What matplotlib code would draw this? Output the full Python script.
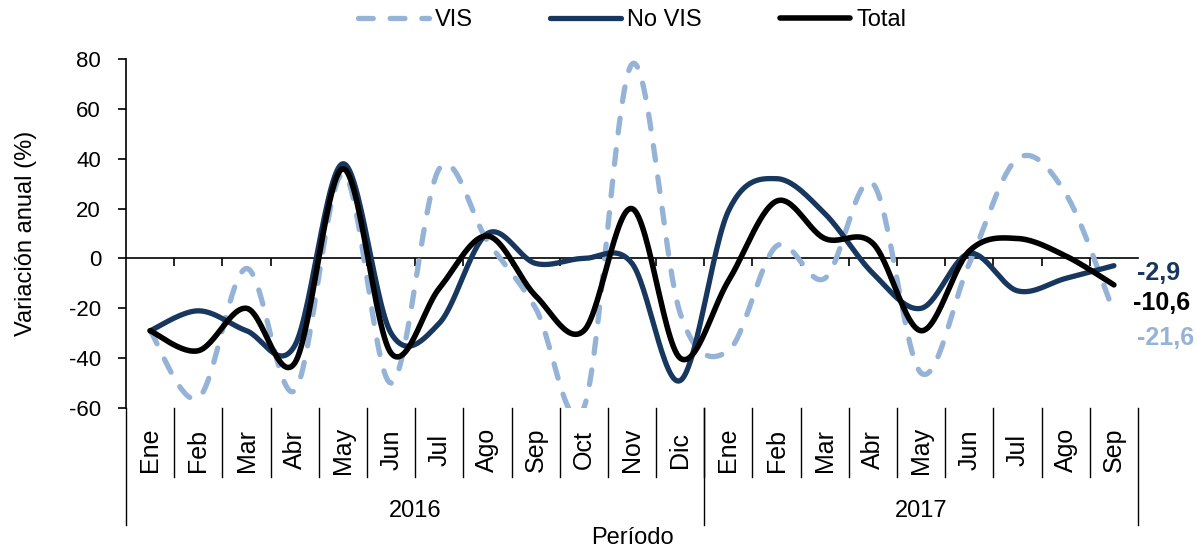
import numpy as np
import matplotlib.pyplot as plt
import matplotlib.transforms as mtransforms

plt.rcParams['font.family'] = ['Liberation Sans', 'DejaVu Sans']
plt.rcParams['axes.unicode_minus'] = False

# datos
meses = ['Ene', 'Feb', 'Mar', 'Abr', 'May', 'Jun', 'Jul', 'Ago', 'Sep', 'Oct', 'Nov', 'Dic',
         'Ene', 'Feb', 'Mar', 'Abr', 'May', 'Jun', 'Jul', 'Ago', 'Sep']
anios = ['2016', '2017']
meses_por_anio = [12, 9]

vis = [-29, -56, -4, -53, 34, -50, 36, 7, -20, -60, 78, -22,
       -37, 5, -8, 30, -46, -2, 40, 26, -21.6]
no_vis = [-29, -21, -29, -35, 38, -30, -26, 10, -2, 0, -2, -49,
          19, 32, 18, -6, -20, 2, -13, -8, -2.9]
total = [-29, -37, -20, -42, 36, -38, -12, 9, -15, -29, 20, -40,
         -9, 23, 8, 6, -29, 3, 8, 1, -10.6]

c_vis = '#95B3D7'
c_novis = '#17375E'
c_total = '#000000'


def suavizar(y, n=30):
    # curva suavizada tipo excel (catmull-rom con bezier)
    x = np.arange(len(y), dtype=float)
    y = np.asarray(y, dtype=float)
    P = np.column_stack([x, y])
    P = np.vstack([P[0], P, P[-1]])
    t = np.linspace(0, 1, n)[:, None]
    out = []
    for i in range(1, len(P) - 2):
        p0, p1, p2, p3 = P[i - 1], P[i], P[i + 1], P[i + 2]
        b1 = p1 + (p2 - p0) / 6
        b2 = p2 - (p3 - p1) / 6
        seg = (1 - t) ** 3 * p1 + 3 * (1 - t) ** 2 * t * b1 + 3 * (1 - t) * t ** 2 * b2 + t ** 3 * p2
        out.append(seg if i == 1 else seg[1:])
    out = np.vstack(out)
    return out[:, 0], out[:, 1]


fig = plt.figure(figsize=(11.97, 5.49), dpi=100)
ax = fig.add_axes([0.1053, 0.2568, 0.8454, 0.6357])

xs, ys = suavizar(vis)
ax.plot(xs, ys, color=c_vis, lw=3.8, ls=(0, (2.8, 3.2)), dash_capstyle='round', label='VIS', zorder=3)
xs, ys = suavizar(no_vis)
ax.plot(xs, ys, color=c_novis, lw=3.8, solid_capstyle='round', label='No VIS', zorder=4)
xs, ys = suavizar(total)
ax.plot(xs, ys, color=c_total, lw=4.0, solid_capstyle='round', label='Total', zorder=5)

n = len(meses)
ax.set_xlim(-0.5, n - 0.5)
ax.set_ylim(-60, 80)
ax.set_yticks(np.arange(-60, 81, 20))
ax.tick_params(axis='y', direction='out', length=6, width=1.2, labelsize=16, pad=12)
ax.set_ylabel('Variación anual (%)', fontsize=17)
ax.yaxis.set_label_coords(-0.088, 0.5)

# eje horizontal en cero
ax.spines['top'].set_visible(False)
ax.spines['right'].set_visible(False)
ax.spines['left'].set_linewidth(1.2)
ax.spines['bottom'].set_position(('data', 0))
ax.spines['bottom'].set_linewidth(1.2)
ax.set_xticks(np.arange(0.5, n - 1, 1))
ax.set_xticklabels([])
ax.tick_params(axis='x', direction='out', length=6, width=1.2)

# etiquetas de categorias bajo el area de grafico
trans = mtransforms.blended_transform_factory(ax.transData, fig.transFigure)
y_top = 1 - 408 / 549
y_mes = 1 - 477 / 549
y_anio = 1 - 525 / 549
for i, m in enumerate(meses):
    ax.text(i, 1 - 450 / 549, m, transform=trans, rotation=90, ha='center', va='center', fontsize=18)
for b in np.arange(0.5, n - 1, 1):
    ax.plot([b, b], [y_top, y_mes], transform=trans, color='black', lw=1.0, clip_on=False)
inicio = -0.5
for a, k in zip(anios, meses_por_anio):
    fin = inicio + k
    ax.text((inicio + fin) / 2, 1 - 511 / 549, a, transform=trans, ha='center', va='center', fontsize=17)
    ax.plot([inicio, inicio], [y_top, y_anio], transform=trans, color='black', lw=1.0, clip_on=False)
    inicio = fin
ax.plot([inicio, inicio], [y_top, y_anio], transform=trans, color='black', lw=1.0, clip_on=False)
fig.text(0.528, 1 - 538 / 549, 'Período', ha='center', va='center', fontsize=17)

# valores finales
ax.annotate('-2,9', (n - 1, no_vis[-1]), xytext=(16.5, -5), textcoords='offset points',
            color=c_novis, fontsize=18, fontweight='bold', va='center', ha='left', annotation_clip=False)
ax.annotate('-10,6', (n - 1, total[-1]), xytext=(13.7, -13.4), textcoords='offset points',
            color=c_total, fontsize=18, fontweight='bold', va='center', ha='left', annotation_clip=False)
ax.annotate('-21,6', (n - 1, vis[-1]), xytext=(16.5, -18.7), textcoords='offset points',
            color=c_vis, fontsize=18, fontweight='bold', va='center', ha='left', annotation_clip=False)

fig.legend(loc='center', bbox_to_anchor=(0.528, 1 - 20 / 549), ncol=3, frameon=False,
           fontsize=17, handlelength=3.0, columnspacing=3.3, handletextpad=0.25)

fig.savefig('out.png', dpi=100)
